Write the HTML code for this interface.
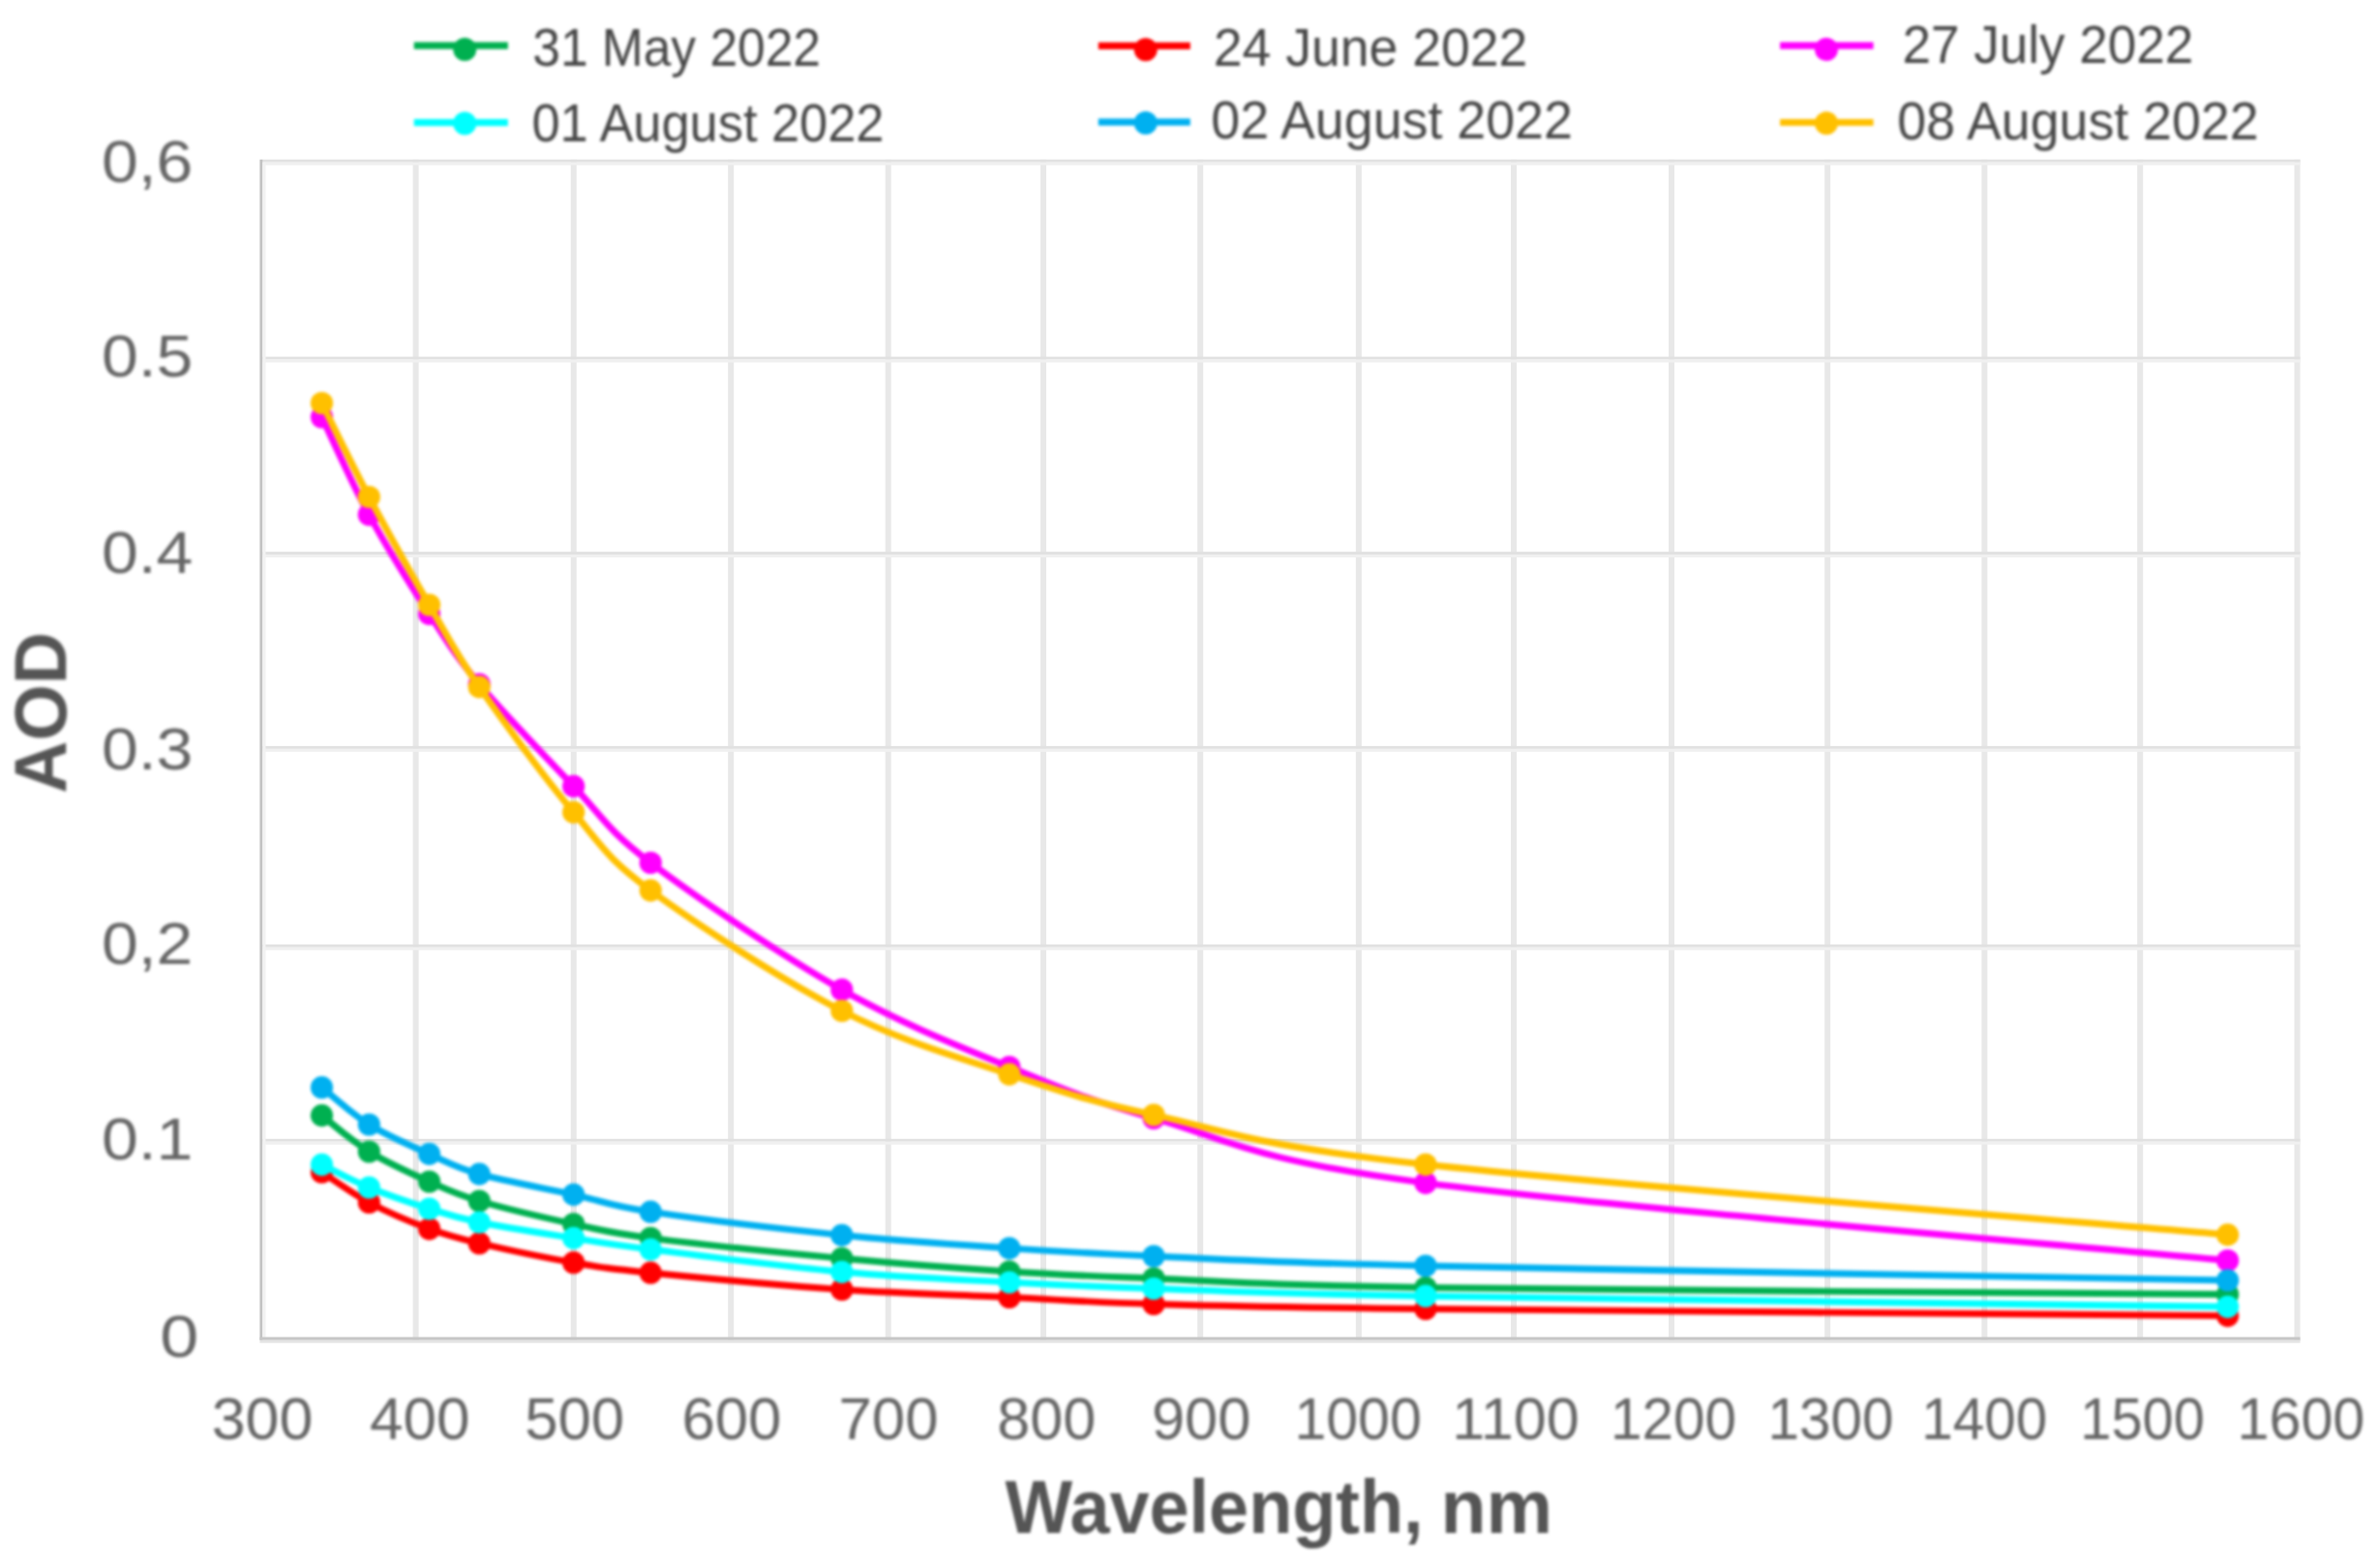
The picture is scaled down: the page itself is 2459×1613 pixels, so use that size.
<!DOCTYPE html>
<html lang="en"><head><meta charset="utf-8"><title>AOD vs Wavelength</title>
<style>html,body{margin:0;padding:0;background:#fff}body{width:2459px;height:1613px;overflow:hidden}svg{display:block}text{font-family:"Liberation Sans",sans-serif}.tk{font-size:61px;fill:#666}.lg{font-size:55.5px;fill:#474747}.ttl{font-weight:bold;fill:#555}</style></head><body>
<svg width="2459" height="1613" viewBox="0 0 2459 1613">
<defs><filter id="b" color-interpolation-filters="sRGB" x="-2%" y="-2%" width="104%" height="104%"><feGaussianBlur stdDeviation="1.5"/></filter><filter id="g" color-interpolation-filters="sRGB" x="-2%" y="-2%" width="104%" height="104%"><feGaussianBlur stdDeviation="0.55"/></filter></defs>
<rect width="2459" height="1613" fill="#fff"/>
<g filter="url(#g)">
<rect x="426.6" y="164.8" width="6" height="1221.1" fill="#e8e8e8"/><rect x="589.7" y="164.8" width="6" height="1221.1" fill="#e8e8e8"/><rect x="752.2" y="164.8" width="6" height="1221.1" fill="#e8e8e8"/><rect x="914.7" y="164.8" width="6" height="1221.1" fill="#e8e8e8"/><rect x="1075.0" y="164.8" width="6" height="1221.1" fill="#e8e8e8"/><rect x="1237.2" y="164.8" width="6" height="1221.1" fill="#e8e8e8"/><rect x="1400.8" y="164.8" width="6" height="1221.1" fill="#e8e8e8"/><rect x="1561.0" y="164.8" width="6" height="1221.1" fill="#e8e8e8"/><rect x="1724.0" y="164.8" width="6" height="1221.1" fill="#e8e8e8"/><rect x="1885.2" y="164.8" width="6" height="1221.1" fill="#e8e8e8"/><rect x="2047.4" y="164.8" width="6" height="1221.1" fill="#e8e8e8"/><rect x="2208.2" y="164.8" width="6" height="1221.1" fill="#e8e8e8"/><rect x="2370.5" y="164.8" width="6" height="1221.1" fill="#e8e8e8"/><rect x="270.8" y="164.8" width="2105.7" height="2.9" fill="#e1e1e1"/><rect x="270.8" y="167.7" width="2105.7" height="3" fill="#f0f0f0"/><rect x="270.8" y="368.6" width="2105.7" height="2.9" fill="#e1e1e1"/><rect x="270.8" y="371.5" width="2105.7" height="3" fill="#f0f0f0"/><rect x="270.8" y="570.1" width="2105.7" height="2.9" fill="#e1e1e1"/><rect x="270.8" y="573.0" width="2105.7" height="3" fill="#f0f0f0"/><rect x="270.8" y="770.9" width="2105.7" height="2.9" fill="#e1e1e1"/><rect x="270.8" y="773.8" width="2105.7" height="3" fill="#f0f0f0"/><rect x="270.8" y="975.9" width="2105.7" height="2.9" fill="#e1e1e1"/><rect x="270.8" y="978.8" width="2105.7" height="3" fill="#f0f0f0"/><rect x="270.8" y="1176.8" width="2105.7" height="2.9" fill="#e1e1e1"/><rect x="270.8" y="1179.7" width="2105.7" height="3" fill="#f0f0f0"/>
<rect x="268.4" y="164.8" width="2.9" height="1220.1" fill="#c2c2c2"/><rect x="271.3" y="167.7" width="3.2" height="1214.2" fill="#f2f2f2"/>
<rect x="268.4" y="1381.6" width="2108.1" height="3.2" fill="#c6c6c6"/><rect x="268.4" y="1384.8" width="2108.1" height="2.9" fill="#e4e4e4"/>
</g><g filter="url(#b)">
<g fill="#00B050" stroke="none"><path d="M332.5 1152.6 C340.6 1158.8 362.8 1178.6 381.3 1190.0 C399.8 1201.4 424.5 1212.5 443.5 1221.0 C462.5 1229.5 470.3 1233.7 495.2 1241.0 C520.0 1248.3 563.1 1258.4 592.6 1264.8 C622.1 1271.2 626.0 1273.4 672.2 1279.3 C718.4 1285.2 808.0 1294.5 869.8 1300.3 C931.6 1306.1 989.1 1310.5 1042.8 1314.0 C1096.5 1317.5 1120.3 1318.2 1192.0 1321.0 C1263.7 1323.8 1288.0 1327.8 1472.9 1330.5 C1657.8 1333.2 2163.5 1336.3 2301.6 1337.5" fill="none" stroke="#00B050" stroke-width="6.9" stroke-linecap="round" stroke-linejoin="round"/><circle cx="332.5" cy="1152.6" r="11.6"/><circle cx="381.3" cy="1190.0" r="11.6"/><circle cx="443.5" cy="1221.0" r="11.6"/><circle cx="495.2" cy="1241.0" r="11.6"/><circle cx="592.6" cy="1264.8" r="11.6"/><circle cx="672.2" cy="1279.3" r="11.6"/><circle cx="869.8" cy="1300.3" r="11.6"/><circle cx="1042.8" cy="1314.0" r="11.6"/><circle cx="1192.0" cy="1321.0" r="11.6"/><circle cx="1472.9" cy="1330.5" r="11.6"/><circle cx="2301.6" cy="1337.5" r="11.6"/></g>
<g fill="#FF0000" stroke="none"><path d="M332.5 1211.2 C340.6 1216.4 362.8 1232.7 381.3 1242.5 C399.8 1252.3 424.5 1262.8 443.5 1269.8 C462.5 1276.8 470.3 1278.9 495.2 1284.7 C520.0 1290.5 563.1 1299.6 592.6 1304.7 C622.1 1309.8 626.0 1310.6 672.2 1315.2 C718.4 1319.8 808.0 1328.3 869.8 1332.5 C931.6 1336.7 989.1 1338.0 1042.8 1340.5 C1096.5 1343.0 1120.3 1345.5 1192.0 1347.5 C1263.7 1349.5 1288.0 1350.5 1472.9 1352.5 C1657.8 1354.5 2163.5 1358.4 2301.6 1359.6" fill="none" stroke="#FF0000" stroke-width="6.9" stroke-linecap="round" stroke-linejoin="round"/><circle cx="332.5" cy="1211.2" r="11.6"/><circle cx="381.3" cy="1242.5" r="11.6"/><circle cx="443.5" cy="1269.8" r="11.6"/><circle cx="495.2" cy="1284.7" r="11.6"/><circle cx="592.6" cy="1304.7" r="11.6"/><circle cx="672.2" cy="1315.2" r="11.6"/><circle cx="869.8" cy="1332.5" r="11.6"/><circle cx="1042.8" cy="1340.5" r="11.6"/><circle cx="1192.0" cy="1347.5" r="11.6"/><circle cx="1472.9" cy="1352.5" r="11.6"/><circle cx="2301.6" cy="1359.6" r="11.6"/></g>
<g fill="#FF00FF" stroke="none"><path d="M332.5 431.0 C340.6 447.8 362.8 497.9 381.3 531.8 C399.8 565.7 424.5 605.1 443.5 634.3 C462.5 663.5 470.3 677.3 495.2 707.0 C520.0 736.7 563.1 781.6 592.6 812.4 C622.1 843.1 626.0 856.5 672.2 891.5 C718.4 926.5 808.0 987.5 869.8 1022.7 C931.6 1057.9 989.1 1080.4 1042.8 1102.5 C1096.5 1124.6 1120.3 1135.5 1192.0 1155.5 C1263.7 1175.5 1288.0 1197.8 1472.9 1222.3 C1657.8 1246.8 2163.5 1289.1 2301.6 1302.5" fill="none" stroke="#FF00FF" stroke-width="6.9" stroke-linecap="round" stroke-linejoin="round"/><circle cx="332.5" cy="431.0" r="11.6"/><circle cx="381.3" cy="531.8" r="11.6"/><circle cx="443.5" cy="634.3" r="11.6"/><circle cx="495.2" cy="707.0" r="11.6"/><circle cx="592.6" cy="812.4" r="11.6"/><circle cx="672.2" cy="891.5" r="11.6"/><circle cx="869.8" cy="1022.7" r="11.6"/><circle cx="1042.8" cy="1102.5" r="11.6"/><circle cx="1192.0" cy="1155.5" r="11.6"/><circle cx="1472.9" cy="1222.3" r="11.6"/><circle cx="2301.6" cy="1302.5" r="11.6"/></g>
<g fill="#00FFFF" stroke="none"><path d="M332.5 1203.4 C340.6 1207.3 362.8 1219.4 381.3 1227.0 C399.8 1234.6 424.5 1243.0 443.5 1249.0 C462.5 1255.0 470.3 1257.9 495.2 1263.0 C520.0 1268.1 563.1 1274.7 592.6 1279.4 C622.1 1284.1 626.0 1285.2 672.2 1291.0 C718.4 1296.8 808.0 1308.6 869.8 1314.3 C931.6 1320.0 989.1 1322.1 1042.8 1325.0 C1096.5 1327.9 1120.3 1329.1 1192.0 1331.5 C1263.7 1333.9 1288.0 1336.1 1472.9 1339.2 C1657.8 1342.3 2163.5 1348.5 2301.6 1350.3" fill="none" stroke="#00FFFF" stroke-width="6.9" stroke-linecap="round" stroke-linejoin="round"/><circle cx="332.5" cy="1203.4" r="11.6"/><circle cx="381.3" cy="1227.0" r="11.6"/><circle cx="443.5" cy="1249.0" r="11.6"/><circle cx="495.2" cy="1263.0" r="11.6"/><circle cx="592.6" cy="1279.4" r="11.6"/><circle cx="672.2" cy="1291.0" r="11.6"/><circle cx="869.8" cy="1314.3" r="11.6"/><circle cx="1042.8" cy="1325.0" r="11.6"/><circle cx="1192.0" cy="1331.5" r="11.6"/><circle cx="1472.9" cy="1339.2" r="11.6"/><circle cx="2301.6" cy="1350.3" r="11.6"/></g>
<g fill="#00B0F0" stroke="none"><path d="M332.5 1123.7 C340.6 1130.1 362.8 1150.5 381.3 1162.0 C399.8 1173.5 424.5 1183.9 443.5 1192.4 C462.5 1200.9 470.3 1206.1 495.2 1213.1 C520.0 1220.1 563.1 1227.9 592.6 1234.4 C622.1 1240.9 626.0 1245.2 672.2 1252.2 C718.4 1259.2 808.0 1270.0 869.8 1276.3 C931.6 1282.6 989.1 1286.2 1042.8 1289.8 C1096.5 1293.4 1120.3 1295.0 1192.0 1298.0 C1263.7 1301.0 1288.0 1303.8 1472.9 1308.0 C1657.8 1312.2 2163.5 1320.5 2301.6 1323.0" fill="none" stroke="#00B0F0" stroke-width="6.9" stroke-linecap="round" stroke-linejoin="round"/><circle cx="332.5" cy="1123.7" r="11.6"/><circle cx="381.3" cy="1162.0" r="11.6"/><circle cx="443.5" cy="1192.4" r="11.6"/><circle cx="495.2" cy="1213.1" r="11.6"/><circle cx="592.6" cy="1234.4" r="11.6"/><circle cx="672.2" cy="1252.2" r="11.6"/><circle cx="869.8" cy="1276.3" r="11.6"/><circle cx="1042.8" cy="1289.8" r="11.6"/><circle cx="1192.0" cy="1298.0" r="11.6"/><circle cx="1472.9" cy="1308.0" r="11.6"/><circle cx="2301.6" cy="1323.0" r="11.6"/></g>
<g fill="#FFC000" stroke="none"><path d="M332.5 416.5 C340.6 432.7 362.8 478.8 381.3 513.5 C399.8 548.2 424.5 592.3 443.5 625.0 C462.5 657.7 470.3 674.2 495.2 709.9 C520.0 745.6 563.1 804.3 592.6 839.3 C622.1 874.3 626.0 885.9 672.2 920.1 C718.4 954.3 808.0 1012.8 869.8 1044.5 C931.6 1076.2 989.1 1092.2 1042.8 1110.1 C1096.5 1128.0 1120.3 1136.5 1192.0 1152.0 C1263.7 1167.5 1288.0 1182.6 1472.9 1203.3 C1657.8 1224.0 2163.5 1263.8 2301.6 1275.9" fill="none" stroke="#FFC000" stroke-width="6.9" stroke-linecap="round" stroke-linejoin="round"/><circle cx="332.5" cy="416.5" r="11.6"/><circle cx="381.3" cy="513.5" r="11.6"/><circle cx="443.5" cy="625.0" r="11.6"/><circle cx="495.2" cy="709.9" r="11.6"/><circle cx="592.6" cy="839.3" r="11.6"/><circle cx="672.2" cy="920.1" r="11.6"/><circle cx="869.8" cy="1044.5" r="11.6"/><circle cx="1042.8" cy="1110.1" r="11.6"/><circle cx="1192.0" cy="1152.0" r="11.6"/><circle cx="1472.9" cy="1203.3" r="11.6"/><circle cx="2301.6" cy="1275.9" r="11.6"/></g>
<line x1="427.7" y1="47.2" x2="524.8" y2="47.2" stroke="#00B050" stroke-width="7.2"/><circle cx="480.2" cy="51.0" r="12" fill="#00B050"/>
<text id="lg0" class="lg" x="550.3" y="67.6" textLength="297.6" lengthAdjust="spacingAndGlyphs">31 May 2022</text>
<line x1="1134.8" y1="47.4" x2="1229.8" y2="47.4" stroke="#FF0000" stroke-width="7.2"/><circle cx="1183.7" cy="51.2" r="12" fill="#FF0000"/>
<text id="lg1" class="lg" x="1253.8" y="68.0" textLength="324.4" lengthAdjust="spacingAndGlyphs">24 June 2022</text>
<line x1="1839.1" y1="47.1" x2="1935.6" y2="47.1" stroke="#FF00FF" stroke-width="7.2"/><circle cx="1887.0" cy="50.9" r="12" fill="#FF00FF"/>
<text id="lg2" class="lg" x="1965.4" y="65.0" textLength="300.9" lengthAdjust="spacingAndGlyphs">27 July 2022</text>
<line x1="427.7" y1="126.6" x2="524.8" y2="126.6" stroke="#00FFFF" stroke-width="7.2"/><circle cx="480.2" cy="127.4" r="12" fill="#00FFFF"/>
<text id="lg3" class="lg" x="549.5" y="146.2" textLength="364.0" lengthAdjust="spacingAndGlyphs">01 August 2022</text>
<line x1="1134.8" y1="126.1" x2="1229.8" y2="126.1" stroke="#00B0F0" stroke-width="7.2"/><circle cx="1183.7" cy="126.9" r="12" fill="#00B0F0"/>
<text id="lg4" class="lg" x="1251.3" y="143.4" textLength="373.5" lengthAdjust="spacingAndGlyphs">02 August 2022</text>
<line x1="1839.1" y1="126.5" x2="1935.6" y2="126.5" stroke="#FFC000" stroke-width="7.2"/><circle cx="1887.0" cy="127.3" r="12" fill="#FFC000"/>
<text id="lg5" class="lg" x="1960.3" y="143.8" textLength="373.3" lengthAdjust="spacingAndGlyphs">08 August 2022</text>
<text id="xt0" class="tk" x="271.0" y="1487.2" text-anchor="middle" textLength="104.7" lengthAdjust="spacingAndGlyphs">300</text>
<text id="xt1" class="tk" x="433.7" y="1487.2" text-anchor="middle" textLength="103.5" lengthAdjust="spacingAndGlyphs">400</text>
<text id="xt2" class="tk" x="593.7" y="1487.2" text-anchor="middle" textLength="103.0" lengthAdjust="spacingAndGlyphs">500</text>
<text id="xt3" class="tk" x="755.9" y="1487.2" text-anchor="middle" textLength="103.0" lengthAdjust="spacingAndGlyphs">600</text>
<text id="xt4" class="tk" x="918.0" y="1487.2" text-anchor="middle" textLength="103.0" lengthAdjust="spacingAndGlyphs">700</text>
<text id="xt5" class="tk" x="1081.2" y="1487.2" text-anchor="middle" textLength="102.0" lengthAdjust="spacingAndGlyphs">800</text>
<text id="xt6" class="tk" x="1241.1" y="1487.2" text-anchor="middle" textLength="102.4" lengthAdjust="spacingAndGlyphs">900</text>
<text id="xt7" class="tk" x="1403.1" y="1487.2" text-anchor="middle" textLength="131.4" lengthAdjust="spacingAndGlyphs">1000</text>
<text id="xt8" class="tk" x="1566.0" y="1487.2" text-anchor="middle" textLength="131.4" lengthAdjust="spacingAndGlyphs">1100</text>
<text id="xt9" class="tk" x="1729.0" y="1487.2" text-anchor="middle" textLength="130.0" lengthAdjust="spacingAndGlyphs">1200</text>
<text id="xt10" class="tk" x="1891.5" y="1487.2" text-anchor="middle" textLength="130.0" lengthAdjust="spacingAndGlyphs">1300</text>
<text id="xt11" class="tk" x="2050.2" y="1487.2" text-anchor="middle" textLength="130.0" lengthAdjust="spacingAndGlyphs">1400</text>
<text id="xt12" class="tk" x="2213.6" y="1487.2" text-anchor="middle" textLength="128.5" lengthAdjust="spacingAndGlyphs">1500</text>
<text id="xt13" class="tk" x="2377.4" y="1487.2" text-anchor="middle" textLength="131.8" lengthAdjust="spacingAndGlyphs">1600</text>
<text id="yt0" class="tk" x="199.4" y="188.3" text-anchor="end" textLength="94.5" lengthAdjust="spacingAndGlyphs">0,6</text>
<text id="yt1" class="tk" x="199.4" y="389.3" text-anchor="end" textLength="94.5" lengthAdjust="spacingAndGlyphs">0.5</text>
<text id="yt2" class="tk" x="199.4" y="592.0" text-anchor="end" textLength="94.5" lengthAdjust="spacingAndGlyphs">0.4</text>
<text id="yt3" class="tk" x="199.4" y="795.4" text-anchor="end" textLength="94.5" lengthAdjust="spacingAndGlyphs">0.3</text>
<text id="yt4" class="tk" x="199.4" y="996.4" text-anchor="end" textLength="94.5" lengthAdjust="spacingAndGlyphs">0,2</text>
<text id="yt5" class="tk" x="199.4" y="1198.4" text-anchor="end" textLength="94.5" lengthAdjust="spacingAndGlyphs">0.1</text>
<text id="yt6" class="tk" x="205.3" y="1402.3" text-anchor="end" textLength="40.0" lengthAdjust="spacingAndGlyphs">0</text>
<text id="xtitle" class="ttl" font-size="78" y="1583.5"><tspan x="1038.5" textLength="432.0" lengthAdjust="spacingAndGlyphs">Wavelength,</tspan><tspan x="1467.0" textLength="137.0" lengthAdjust="spacingAndGlyphs"> nm</tspan></text>
<text id="ytitle" class="ttl" font-size="76" transform="translate(68.2 819.7) rotate(-90)" x="0" y="0" textLength="166.6" lengthAdjust="spacingAndGlyphs">AOD</text>
</g></svg></body></html>
